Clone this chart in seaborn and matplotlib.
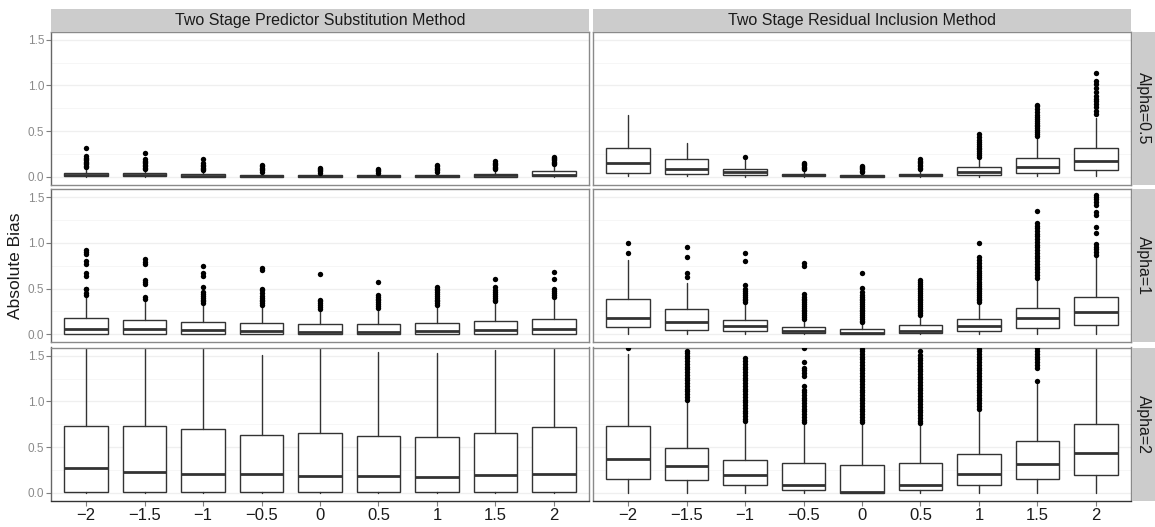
import numpy as np
import pandas as pd
import matplotlib
matplotlib.use("Agg")
import matplotlib.pyplot as plt
import seaborn as sns

# ---------------- data ----------------
categories = ["-2", "-1.5", "-1", "-0.5", "0", "0.5", "1", "1.5", "2"]
tick_labels = ["\u22122", "\u22121.5", "\u22121", "\u22120.5", "0", "0.5", "1", "1.5", "2"]
methods = ["Two Stage Predictor Substitution Method", "Two Stage Residual Inclusion Method"]
alphas = ["Alpha=0.5", "Alpha=1", "Alpha=2"]
y_ticks = [0.0, 0.5, 1.0, 1.5]
y_tick_labels = ["0.0", "0.5", "1.0", "1.5"]

# Predictor substitution, alpha = 0.5
ps05_q1 = [0.003, 0.003, 0.002, 0.002, 0.001, 0.001, 0.002, 0.002, 0.004]
ps05_med = [0.020, 0.018, 0.013, 0.010, 0.008, 0.008, 0.010, 0.014, 0.022]
ps05_q3 = [0.045, 0.040, 0.030, 0.022, 0.017, 0.018, 0.024, 0.033, 0.058]
ps05_lo = [0.0, 0.0, 0.0, 0.0, 0.0, 0.0, 0.0, 0.0, 0.0]
ps05_hi = [0.100, 0.080, 0.065, 0.050, 0.040, 0.040, 0.050, 0.075, 0.130]
ps05_out = [
    [0.105, 0.12, 0.135, 0.15, 0.165, 0.18, 0.195, 0.21, 0.23, 0.31],
    [0.085, 0.10, 0.115, 0.13, 0.145, 0.16, 0.175, 0.19, 0.26],
    [0.07, 0.085, 0.10, 0.115, 0.13, 0.15, 0.19],
    [0.055, 0.07, 0.085, 0.10, 0.115, 0.13],
    [0.045, 0.06, 0.075, 0.09, 0.10],
    [0.045, 0.06, 0.075, 0.09],
    [0.055, 0.07, 0.085, 0.10, 0.115, 0.125],
    [0.08, 0.095, 0.11, 0.125, 0.14, 0.155, 0.17],
    [0.135, 0.15, 0.165, 0.18, 0.195, 0.21, 0.22],
]

# Residual inclusion, alpha = 0.5
ri05_q1 = [0.044, 0.033, 0.018, 0.006, 0.002, 0.005, 0.018, 0.044, 0.070]
ri05_med = [0.147, 0.088, 0.050, 0.018, 0.007, 0.015, 0.055, 0.110, 0.172]
ri05_q3 = [0.320, 0.190, 0.090, 0.035, 0.020, 0.035, 0.106, 0.210, 0.320]
ri05_lo = [0.005, 0.004, 0.002, 0.0, 0.0, 0.0, 0.002, 0.003, 0.005]
ri05_hi = [0.674, 0.370, 0.180, 0.075, 0.045, 0.080, 0.210, 0.440, 0.640]
ri05_out = [
    [],
    [],
    [0.215],
    [0.08, 0.095, 0.11, 0.125, 0.14, 0.155],
    [0.05, 0.065, 0.08, 0.095, 0.11, 0.118],
    [0.085, 0.10, 0.115, 0.13, 0.145, 0.16, 0.175, 0.19],
    [0.22, 0.24, 0.26, 0.28, 0.30, 0.32, 0.34, 0.36, 0.38, 0.40, 0.43, 0.465],
    [0.45, 0.47, 0.49, 0.51, 0.53, 0.55, 0.57, 0.59, 0.61, 0.63, 0.65, 0.68, 0.71, 0.74, 0.77, 0.79],
    [0.685, 0.72, 0.758, 0.795, 0.83, 0.85, 0.886, 0.923, 0.97, 1.01, 1.05, 1.14],
]

# Predictor substitution, alpha = 1
ps1_q1 = [0.003, 0.003, 0.003, 0.003, 0.002, 0.002, 0.002, 0.003, 0.003]
ps1_med = [0.052, 0.055, 0.045, 0.035, 0.028, 0.028, 0.040, 0.045, 0.058]
ps1_q3 = [0.173, 0.155, 0.130, 0.125, 0.110, 0.110, 0.125, 0.140, 0.165]
ps1_lo = [0.0, 0.0, 0.0, 0.0, 0.0, 0.0, 0.0, 0.0, 0.0]
ps1_hi = [0.41, 0.37, 0.32, 0.31, 0.27, 0.27, 0.31, 0.35, 0.40]
ps1_out = [
    [0.43, 0.45, 0.49, 0.50, 0.64, 0.67, 0.77, 0.80, 0.88, 0.90, 0.92],
    [0.39, 0.41, 0.55, 0.57, 0.59, 0.77, 0.79, 0.82],
    [0.34, 0.36, 0.38, 0.40, 0.42, 0.44, 0.46, 0.52, 0.64, 0.67, 0.75],
    [0.32, 0.34, 0.36, 0.38, 0.40, 0.42, 0.45, 0.48, 0.49, 0.70, 0.72],
    [0.28, 0.30, 0.32, 0.34, 0.36, 0.38, 0.66],
    [0.29, 0.31, 0.33, 0.35, 0.37, 0.39, 0.41, 0.43, 0.57],
    [0.32, 0.34, 0.36, 0.38, 0.40, 0.42, 0.44, 0.46, 0.48, 0.50, 0.52],
    [0.36, 0.38, 0.40, 0.42, 0.44, 0.46, 0.48, 0.52, 0.60],
    [0.41, 0.43, 0.45, 0.47, 0.49, 0.60, 0.68],
]

# Residual inclusion, alpha = 1
ri1_q1 = [0.074, 0.048, 0.033, 0.015, 0.002, 0.012, 0.037, 0.070, 0.100]
ri1_med = [0.180, 0.137, 0.085, 0.035, 0.012, 0.040, 0.095, 0.177, 0.240]
ri1_q3 = [0.390, 0.273, 0.160, 0.080, 0.060, 0.100, 0.170, 0.290, 0.410]
ri1_lo = [0.005, 0.004, 0.003, 0.0, 0.0, 0.0, 0.002, 0.003, 0.005]
ri1_hi = [0.81, 0.56, 0.33, 0.16, 0.12, 0.20, 0.34, 0.61, 0.86]
ri1_out = [
    [0.89, 1.00],
    [0.63, 0.67, 0.845, 0.96],
    [0.35, 0.37, 0.39, 0.41, 0.43, 0.45, 0.47, 0.50, 0.54, 0.80, 0.885],
    [0.17, 0.19, 0.21, 0.23, 0.25, 0.27, 0.29, 0.31, 0.33, 0.35, 0.37, 0.39, 0.41, 0.44, 0.75, 0.78],
    [0.13, 0.15, 0.17, 0.19, 0.21, 0.23, 0.25, 0.27, 0.29, 0.31, 0.33, 0.35, 0.37, 0.39, 0.41, 0.43,
     0.46, 0.505, 0.67],
    [0.21, 0.23, 0.25, 0.27, 0.29, 0.31, 0.33, 0.35, 0.37, 0.39, 0.41, 0.43, 0.45, 0.47, 0.49, 0.51,
     0.53, 0.55, 0.57, 0.59],
    [0.35, 0.37, 0.39, 0.41, 0.43, 0.45, 0.47, 0.49, 0.51, 0.53, 0.55, 0.57, 0.60, 0.63, 0.65, 0.67,
     0.69, 0.72, 0.75, 0.78, 0.81, 0.845, 1.00],
    [0.62, 0.65, 0.68, 0.71, 0.74, 0.77, 0.80, 0.83, 0.86, 0.89, 0.92, 0.95, 0.98, 1.01, 1.04, 1.07,
     1.10, 1.13, 1.16, 1.19, 1.22, 1.35],
    [0.87, 0.90, 0.93, 0.96, 0.99, 1.11, 1.17, 1.30, 1.34, 1.42, 1.45, 1.48, 1.50, 1.52],
]

# Predictor substitution, alpha = 2
ps2_q1 = [0.003, 0.003, 0.003, 0.003, 0.003, 0.003, 0.003, 0.003, 0.003]
ps2_med = [0.270, 0.225, 0.205, 0.205, 0.185, 0.185, 0.170, 0.190, 0.205]
ps2_q3 = [0.728, 0.735, 0.695, 0.632, 0.650, 0.620, 0.614, 0.650, 0.715]
ps2_lo = [0.0, 0.0, 0.0, 0.0, 0.0, 0.0, 0.0, 0.0, 0.0]
ps2_hi = [1.82, 1.84, 1.74, 1.51, 1.62, 1.54, 1.525, 1.56, 1.79]
ps2_out = [[], [], [], [], [], [], [], [], []]

# Residual inclusion, alpha = 2
ri2_q1 = [0.147, 0.140, 0.085, 0.033, 0.000, 0.033, 0.088, 0.150, 0.195]
ri2_med = [0.370, 0.290, 0.195, 0.085, 0.010, 0.080, 0.200, 0.320, 0.430]
ri2_q3 = [0.728, 0.490, 0.357, 0.324, 0.300, 0.324, 0.423, 0.570, 0.757]
ri2_lo = [0.0, 0.0, 0.0, 0.0, 0.0, 0.0, 0.0, 0.0, 0.0]
ri2_hi = [1.52, 1.00, 0.76, 0.746, 0.75, 0.74, 0.90, 1.19, 1.60]
ri2_out = [
    [1.585],
    [1.02, 1.05, 1.08, 1.11, 1.14, 1.17, 1.20, 1.23, 1.26, 1.29, 1.32, 1.35, 1.38, 1.41, 1.44, 1.47,
     1.50, 1.53, 1.555],
    [0.78, 0.81, 0.84, 0.87, 0.90, 0.93, 0.96, 0.99, 1.02, 1.05, 1.08, 1.11, 1.14, 1.17, 1.20, 1.23,
     1.26, 1.29, 1.32, 1.35, 1.38, 1.41, 1.44, 1.48],
    [0.77, 0.80, 0.83, 0.86, 0.89, 0.92, 0.95, 0.98, 1.01, 1.04, 1.07, 1.10, 1.13, 1.165, 1.28, 1.31,
     1.34, 1.37, 1.43, 1.585],
    [0.77, 0.80, 0.83, 0.86, 0.89, 0.92, 0.95, 0.98, 1.01, 1.04, 1.07, 1.10, 1.13, 1.16, 1.19, 1.22,
     1.25, 1.28, 1.31, 1.34, 1.37, 1.40, 1.43, 1.46, 1.49, 1.52, 1.55, 1.575],
    [0.76, 0.79, 0.82, 0.85, 0.88, 0.91, 0.94, 0.97, 1.00, 1.03, 1.06, 1.09, 1.12, 1.15, 1.18, 1.21,
     1.24, 1.27, 1.30, 1.33, 1.36, 1.39, 1.42, 1.45, 1.48, 1.51, 1.555],
    [0.92, 0.95, 0.98, 1.01, 1.04, 1.07, 1.10, 1.13, 1.16, 1.19, 1.22, 1.25, 1.28, 1.31, 1.34, 1.37,
     1.40, 1.43, 1.46, 1.49, 1.52, 1.55, 1.575],
    [1.22, 1.37, 1.40, 1.43, 1.46, 1.49, 1.52, 1.55, 1.58],
    [],
]

panels = {
    (0, 0): (ps05_q1, ps05_med, ps05_q3, ps05_lo, ps05_hi, ps05_out),
    (0, 1): (ri05_q1, ri05_med, ri05_q3, ri05_lo, ri05_hi, ri05_out),
    (1, 0): (ps1_q1, ps1_med, ps1_q3, ps1_lo, ps1_hi, ps1_out),
    (1, 1): (ri1_q1, ri1_med, ri1_q3, ri1_lo, ri1_hi, ri1_out),
    (2, 0): (ps2_q1, ps2_med, ps2_q3, ps2_lo, ps2_hi, ps2_out),
    (2, 1): (ri2_q1, ri2_med, ri2_q3, ri2_lo, ri2_hi, ri2_out),
}

# ---------------- style ----------------
sns.set_theme(style="white")
plt.rcParams["font.family"] = ["Liberation Sans", "DejaVu Sans"]

W, H = 1155, 527
fig = plt.figure(figsize=(W / 100, H / 100), dpi=100)
fig.patch.set_facecolor("white")


def rect(x0, y0, x1, y1):
    return [x0 / W, 1 - y1 / H, (x1 - x0) / W, (y1 - y0) / H]


cols_px = [(51, 589), (593, 1131)]
rows_px = [(31.5, 184.5), (189, 342), (347.5, 500.5)]
edge = "#333333"
border = "#8a8a8a"
strip_bg = "#cccccc"

for (r, c), (q1, med, q3, lo, hi, outs) in panels.items():
    x0, x1 = cols_px[c]
    y0, y1 = rows_px[r]
    ax = fig.add_axes(rect(x0, y0, x1, y1))
    ax.set_facecolor("white")
    # grid
    for gy in [0.25, 0.75, 1.25]:
        ax.axhline(gy, color="#f6f6f6", lw=0.7, zorder=0)
    for gy in y_ticks:
        ax.axhline(gy, color="#efefef", lw=0.9, zorder=0)

    stats = []
    for i in range(len(categories)):
        stats.append(dict(med=med[i], q1=q1[i], q3=q3[i], whislo=lo[i], whishi=hi[i],
                          fliers=[], label=categories[i]))
    ax.bxp(stats, positions=list(range(len(categories))), widths=0.75, patch_artist=True,
           showcaps=False, showfliers=False,
           boxprops=dict(facecolor="white", edgecolor=edge, linewidth=1.0),
           whiskerprops=dict(color=edge, linewidth=1.0),
           medianprops=dict(color=edge, linewidth=2.0, solid_capstyle="butt"),
           manage_ticks=False, zorder=2)

    pos, val = [], []
    for i, o in enumerate(outs):
        pos += [i] * len(o)
        val += o
    if val:
        df = pd.DataFrame({"pos": pos, "value": val})
        sns.scatterplot(data=df, x="pos", y="value", ax=ax, color="black", s=15,
                        linewidth=0, legend=False, zorder=3)

    ax.set_xlim(-0.6, len(categories) - 0.4)
    ax.set_ylim(-0.085, 1.59)
    ax.set_xlabel("")
    ax.set_ylabel("")
    for s in ax.spines.values():
        s.set_color(border)
        s.set_linewidth(1.0)
        s.set_visible(True)

    ax.set_yticks(y_ticks)
    if c == 0:
        ax.set_yticklabels(y_tick_labels)
        ax.tick_params(axis="y", left=True, length=3.5, width=0.8, color="#7f7f7f",
                       labelsize=8.5, labelcolor="#8a8a8a", pad=1.5)
        ax.spines["left"].set_color("#666666")
    else:
        ax.set_yticklabels([])
        ax.tick_params(axis="y", left=False, length=0)

    ax.set_xticks(list(range(len(categories))))
    if r == 2:
        ax.set_xticklabels(tick_labels)
        ax.tick_params(axis="x", bottom=True, length=3.5, width=0.8, color="#7f7f7f",
                       labelsize=12, labelcolor="#1a1a1a", pad=2)
        ax.spines["bottom"].set_color("#333333")
    else:
        ax.set_xticklabels([])
        ax.tick_params(axis="x", bottom=False, length=0)

# top strips
for c, name in enumerate(methods):
    x0, x1 = cols_px[c]
    sax = fig.add_axes(rect(x0, 9, x1, 31.5))
    sax.set_facecolor(strip_bg)
    sax.set_xticks([]); sax.set_yticks([])
    for s in sax.spines.values():
        s.set_visible(False)
    sax.text(0.5, 0.5, name, ha="center", va="center", fontsize=11.5, color="#1a1a1a",
             transform=sax.transAxes)

# right strips
for r, name in enumerate(alphas):
    y0, y1 = rows_px[r]
    sax = fig.add_axes(rect(1132, y0, 1155, y1))
    sax.set_facecolor(strip_bg)
    sax.set_xticks([]); sax.set_yticks([])
    for s in sax.spines.values():
        s.set_visible(False)
    sax.text(0.5, 0.5, name, ha="center", va="center", fontsize=11.5, color="#1a1a1a",
             rotation=-90, transform=sax.transAxes)

fig.text(15 / W, 1 - 266 / H, "Absolute Bias", rotation=90, ha="center", va="center",
         fontsize=12.5, color="#1a1a1a")

fig.savefig("out.png", dpi=100, facecolor="white")
